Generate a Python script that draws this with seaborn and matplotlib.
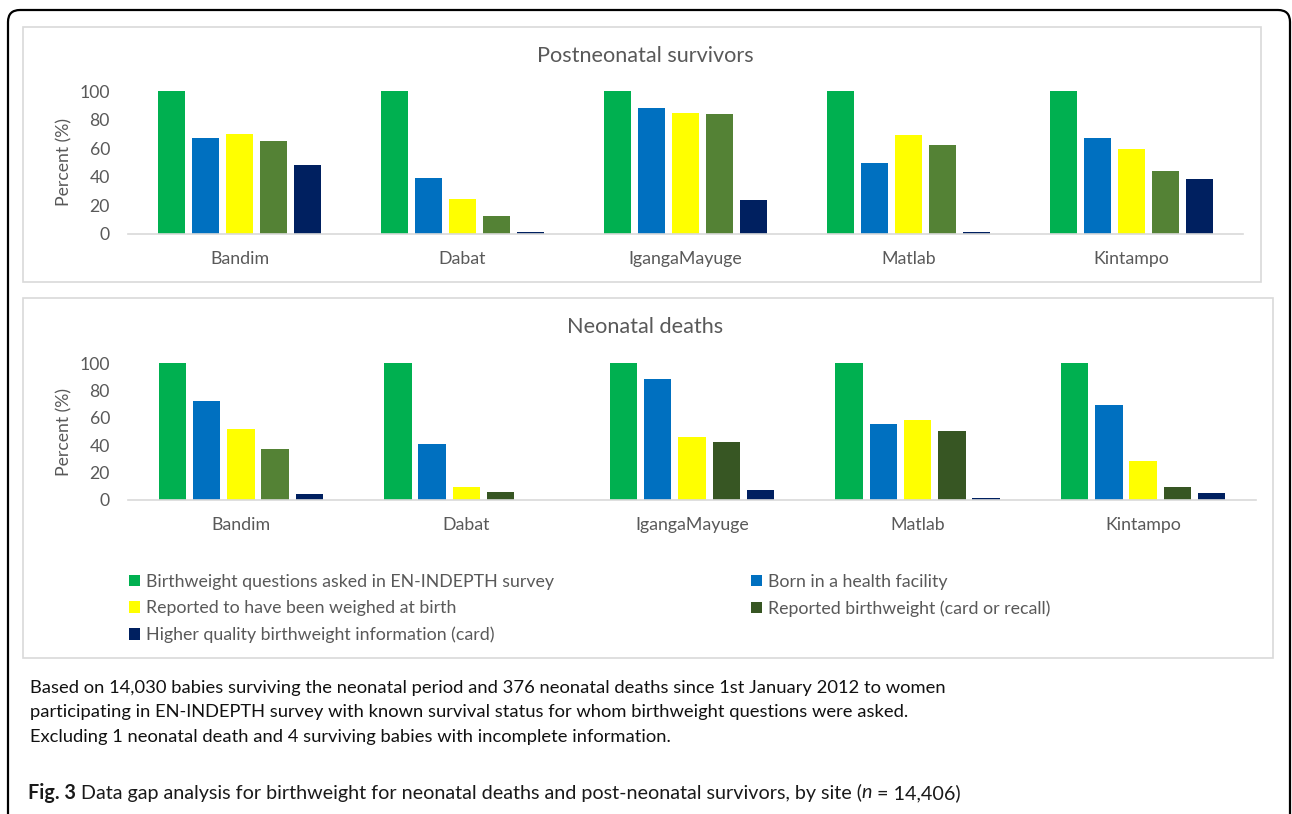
import matplotlib.pyplot as plt
import matplotlib.patches as mpatches
import matplotlib.transforms as mtransforms
import pandas as pd
import seaborn as sns

sns.set_theme(style="white")
plt.rcParams["font.family"] = ["Lato", "DejaVu Sans"]

# ---- data ----
sites = ["Bandim", "Dabat", "IgangaMayuge", "Matlab", "Kintampo"]
measures = [
    "Birthweight questions asked in EN-INDEPTH survey",
    "Born in a health facility",
    "Reported to have been weighed at birth",
    "Reported birthweight (card or recall)",
    "Higher quality birthweight information (card)",
]

survivors_asked = [100, 100, 100, 100, 100]
survivors_facility = [67, 39.5, 88, 49.5, 67]
survivors_weighed = [70, 24.3, 84.5, 69.2, 59.6]
survivors_reported = [65, 12.9, 84, 62.2, 44]
survivors_card = [48.3, 1.6, 23.7, 1.2, 38.6]

deaths_asked = [100, 100, 100, 100, 100]
deaths_facility = [72.6, 41.2, 88.8, 55.3, 69.2]
deaths_weighed = [51.6, 9.6, 46.2, 58.3, 28.4]
deaths_reported = [37, 6, 42.6, 50.2, 9.2]
deaths_card = [4.3, 0, 7.4, 1.1, 5.3]

caption_lines = [
    "Based on 14,030 babies surviving the neonatal period and 376 neonatal deaths since 1st January 2012 to women",
    "participating in EN-INDEPTH survey with known survival status for whom birthweight questions were asked.",
    "Excluding 1 neonatal death and 4 surviving babies with incomplete information.",
]

GREEN, BLUE, YELLOW, OLIVE, DARK_OLIVE, NAVY = (
    "#00B050", "#0070C0", "#FFFF00", "#548235", "#375623", "#002060")
TEXT_GREY = "#595959"

W, H = 1292, 814


def long_frame(series):
    rows = []
    for m, vals in zip(measures, series):
        for s, v in zip(sites, vals):
            rows.append({"Site": s, "Measure": m, "Percent": v})
    return pd.DataFrame(rows)


def style_axes(ax, ylabel_x):
    ax.set_ylim(0, 100)
    ax.set_yticks(range(0, 101, 20))
    for side in ["top", "right", "left"]:
        ax.spines[side].set_visible(False)
    ax.spines["bottom"].set_color("#d9d9d9")
    ax.spines["bottom"].set_linewidth(1.2)
    ax.tick_params(axis="y", length=0, pad=13, labelsize=12.7, labelcolor=TEXT_GREY)
    ax.tick_params(axis="x", length=0, pad=12, labelsize=12.8, labelcolor=TEXT_GREY)
    ax.set_xlabel("")
    ax.set_ylabel("Percent (%)", fontsize=12.7, color=TEXT_GREY)
    ax.yaxis.set_label_coords(ylabel_x, 0.5)
    ax.grid(False)


fig = plt.figure(figsize=(W / 100, H / 100), dpi=100)

# outer rounded frame and panel boxes
frame = mpatches.FancyBboxPatch((8, -20), 1282, H - 10 + 20,
                                boxstyle="round,pad=0,rounding_size=12",
                                transform=mtransforms.IdentityTransform(),
                                fill=False, edgecolor="black", linewidth=1.6)
fig.add_artist(frame)
for x0, y0, x1, y1 in [(23, 27, 1261, 282), (23, 298, 1273, 658)]:
    fig.add_artist(mpatches.Rectangle((x0 / W, 1 - y1 / H), (x1 - x0) / W, (y1 - y0) / H,
                                      transform=fig.transFigure, fill=False,
                                      edgecolor="#d9d9d9", linewidth=1.2))

top_palette = [GREEN, BLUE, YELLOW, OLIVE, NAVY]
bot_palette = [GREEN, BLUE, YELLOW, DARK_OLIVE, NAVY]

ax_top = fig.add_axes([128 / W, 1 - 234 / H, 1115 / W, 143 / H])
sns.barplot(data=long_frame([survivors_asked, survivors_facility, survivors_weighed,
                             survivors_reported, survivors_card]),
            x="Site", y="Percent", hue="Measure", palette=top_palette, saturation=1,
            width=0.76, gap=0.2, legend=False, linewidth=0, ax=ax_top)
style_axes(ax_top, (72 - 128) / 1115)

ax_bot = fig.add_axes([128 / W, 1 - 500 / H, 1128 / W, 136.7 / H])
sns.barplot(data=long_frame([deaths_asked, deaths_facility, deaths_weighed,
                             deaths_reported, deaths_card]),
            x="Site", y="Percent", hue="Measure", palette=bot_palette, saturation=1,
            width=0.76, gap=0.2, legend=False, linewidth=0, ax=ax_bot)
style_axes(ax_bot, (72 - 128) / 1128)
# the Bandim "reported" bar is drawn in the lighter olive in the original
ax_bot.containers[3][0].set_facecolor(OLIVE)

fig.text(645 / W, 1 - 56 / H, "Postneonatal survivors", ha="center", va="center",
         fontsize=15.6, color=TEXT_GREY)
fig.text(645 / W, 1 - 327 / H, "Neonatal deaths", ha="center", va="center",
         fontsize=15.6, color=TEXT_GREY)

# legend: two columns
handles = [mpatches.Patch(facecolor=c, edgecolor="none") for c in bot_palette]
leg_kw = dict(frameon=False, fontsize=12.8, handlelength=0.6, handleheight=0.6,
              handletextpad=0.35, labelspacing=0.58, borderpad=0, borderaxespad=0,
              labelcolor=TEXT_GREY, loc="upper left")
fig.legend([handles[0], handles[2], handles[4]], [measures[0], measures[2], measures[4]],
           bbox_to_anchor=(129 / W, 1 - 574 / H), **leg_kw)
fig.legend([handles[1], handles[3]], [measures[1], measures[3]],
           bbox_to_anchor=(751 / W, 1 - 574 / H), **leg_kw)

# caption
for i, line in enumerate(caption_lines):
    fig.text(30 / W, 1 - (688 + i * 24.5) / H, line, ha="left", va="center",
             fontsize=13.2, color="#111111")

fig.canvas.draw()
renderer = fig.canvas.get_renderer()
x = 28
parts = [("Fig. 3", "bold", "normal"),
         (" Data gap analysis for birthweight for neonatal deaths and post-neonatal survivors, by site (", "normal", "normal"),
         ("n", "normal", "italic"),
         (" = 14,406)", "normal", "normal")]
for txt, weight, style in parts:
    t = fig.text(x / W, 1 - 793 / H, txt, ha="left", va="center", fontsize=14.2,
                 fontweight=weight, fontstyle=style, color="#1a1a1a")
    x += t.get_window_extent(renderer).width

fig.savefig("out.png", dpi=100)
